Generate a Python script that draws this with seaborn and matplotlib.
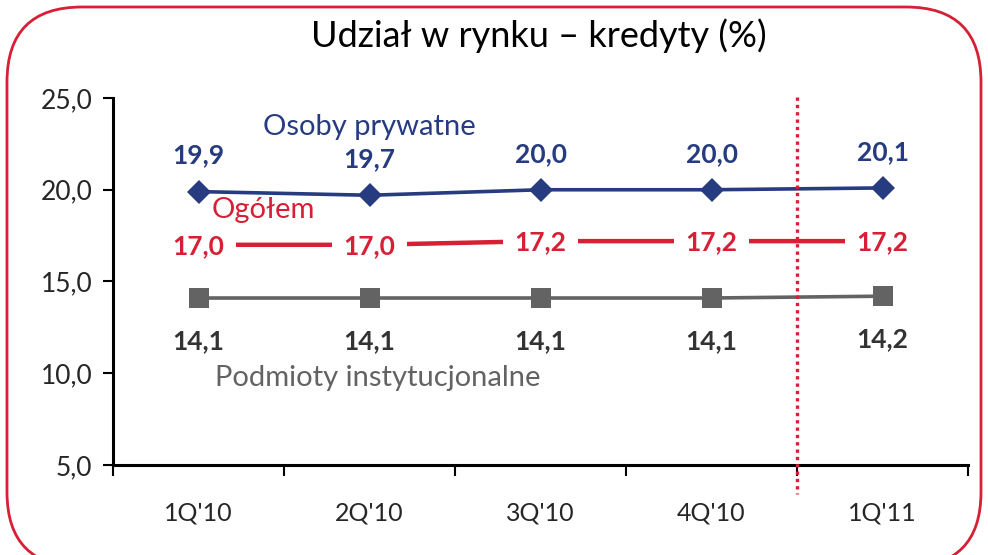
import pandas as pd
import numpy as np
import matplotlib
matplotlib.use('Agg')
import matplotlib.pyplot as plt
import seaborn as sns
from matplotlib.patches import FancyBboxPatch

# data
quarters = ["1Q'10", "2Q'10", "3Q'10", "4Q'10", "1Q'11"]
osoby_prywatne = [19.9, 19.7, 20.0, 20.0, 20.1]
ogolem = [17.0, 17.0, 17.2, 17.2, 17.2]
podmioty = [14.1, 14.1, 14.1, 14.1, 14.2]
y_ticks = [5, 10, 15, 20, 25]

BLUE = '#263b80'
RED = '#d71f35'
GRAY = '#636363'

sns.set_style('white')
plt.rcParams['font.family'] = ['Lato', 'DejaVu Sans']

df = pd.DataFrame({
    'x': np.arange(len(quarters)),
    'osoby': osoby_prywatne,
    'ogolem': ogolem,
    'podmioty': podmioty,
})

fig = plt.figure(figsize=(9.88, 5.55), dpi=100)

# rounded red frame behind everything
bg = fig.add_axes([0, 0, 1, 1])
bg.set_xlim(0, 988)
bg.set_ylim(555, 0)
bg.axis('off')
bg.add_patch(FancyBboxPatch((7, 7), 974, 560,
                            boxstyle='round,pad=0,rounding_size=75',
                            fc='white', ec=RED, lw=2, clip_on=False))

ax = fig.add_axes([0.1144, 0.1622, 0.8654, 0.6612])
ax.patch.set_alpha(0)

sns.lineplot(data=df, x='x', y='podmioty', ax=ax, color=GRAY, lw=2.6,
             marker='s', markersize=14, markeredgewidth=0, zorder=3)
sns.lineplot(data=df, x='x', y='ogolem', ax=ax, color=RED, lw=3.2, zorder=2)
sns.lineplot(data=df, x='x', y='osoby', ax=ax, color=BLUE, lw=2.6,
             marker='D', markersize=12, markeredgewidth=0, zorder=3)

fmt = lambda v: f'{v:.1f}'.replace('.', ',')
for i in range(len(quarters)):
    ax.annotate(fmt(osoby_prywatne[i]), (i, osoby_prywatne[i]), xytext=(0, 26),
                textcoords='offset points', ha='center', va='center',
                fontsize=19, fontweight='bold', color=BLUE)
    ax.annotate(fmt(ogolem[i]), (i, ogolem[i]), xytext=(0, -1),
                textcoords='offset points', ha='center', va='center',
                fontsize=19, fontweight='bold', color=RED, zorder=5,
                bbox=dict(boxstyle='square,pad=0.45', fc='white', ec='none'))
    ax.annotate(fmt(podmioty[i]), (i, podmioty[i]), xytext=(0, -31),
                textcoords='offset points', ha='center', va='center',
                fontsize=19, fontweight='bold', color='#333333')

ax.text(1, 23.4, 'Osoby prywatne', color=BLUE, fontsize=21,
        ha='center', va='center')
ax.text(0.38, 18.9, 'Ogółem', color=RED, fontsize=21,
        ha='center', va='center')
ax.text(1.05, 9.75, 'Podmioty instytucjonalne', color=GRAY, fontsize=21,
        ha='center', va='center')

# dotted separator before the last quarter
ax.plot([3.5, 3.5], [25.05, 3.4], color=RED, ls=(0, (1, 1.2)), lw=2.4,
        clip_on=False, zorder=4)

ax.set_xlim(-0.5, len(quarters) - 0.5)
ax.set_ylim(5, 25)
ax.set_yticks(y_ticks)
ax.set_yticklabels([fmt(v) for v in y_ticks], fontsize=19)
ax.set_xticks(np.arange(-0.5, len(quarters)))
ax.set_xticklabels([])
ax.set_xticks(np.arange(len(quarters)), minor=True)
ax.set_xticklabels(quarters, minor=True, fontsize=18)
ax.tick_params(axis='x', which='major', bottom=True, direction='out',
               length=8, width=1.5, color='black')
ax.tick_params(axis='x', which='minor', bottom=True, length=0, pad=26)
ax.tick_params(axis='y', left=True, direction='out', length=7, width=1.5,
               color='black', pad=8)
ax.set_xlabel('')
ax.set_ylabel('')
for s in ['top', 'right']:
    ax.spines[s].set_visible(False)
for s in ['left', 'bottom']:
    ax.spines[s].set_color('black')
    ax.spines[s].set_linewidth(2.2)

fig.text(0.545, 0.935, 'Udział w rynku – kredyty (%)', ha='center', va='center',
         fontsize=26, color='black')

fig.savefig('out.png', dpi=100)
plt.close(fig)
